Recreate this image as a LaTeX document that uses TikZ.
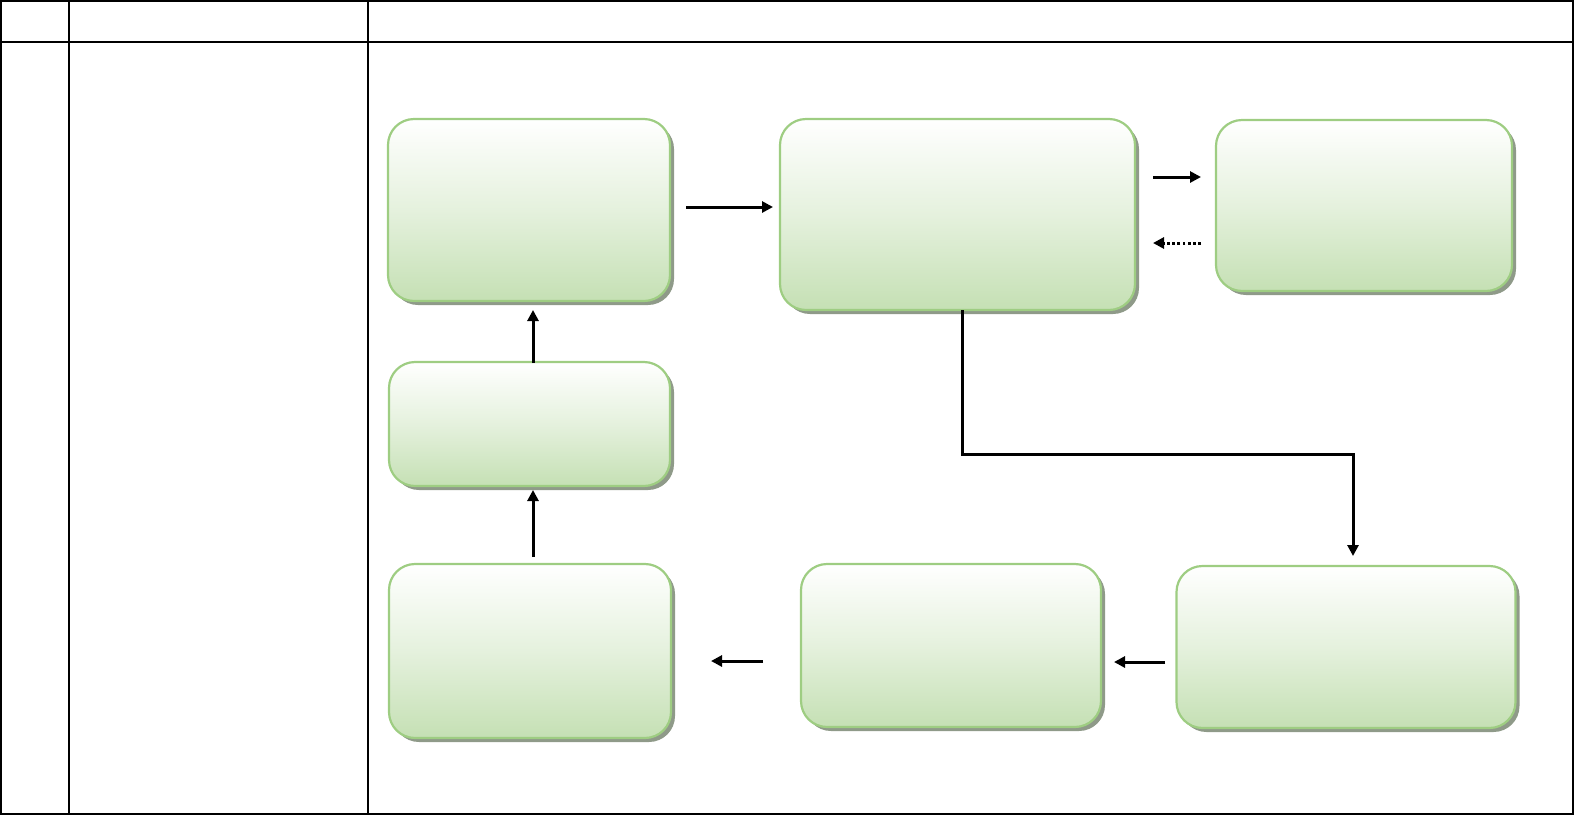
\documentclass[tikz,border=0pt]{standalone}
\usetikzlibrary{arrows.meta,shadows,calc}
\definecolor{boxgreen}{RGB}{197,224,180}
\definecolor{boxborder}{RGB}{158,205,130}
\definecolor{shadowc}{RGB}{143,154,137}
\tikzset{
  box/.style={draw=boxborder, line width=1.1pt, rounded corners=13pt,
    top color=white, bottom color=boxgreen, middle color=boxgreen!45!white,
    inner sep=0pt, outer sep=0pt,
    drop shadow={shadow xshift=2pt, shadow yshift=-2pt, fill=shadowc, opacity=1}},
  arr/.style={line width=1.5pt, -{Triangle[length=5.5pt,width=5.5pt]}},
  darr/.style={arr, dash pattern=on 1.4pt off 1.2pt},
  grid/.style={line width=1pt}
}
\begin{document}
\begin{tikzpicture}[x=0.5pt,y=-0.5pt]
\useasboundingbox (0,0) rectangle (1574,815);
% table
\draw[grid] (1,1) rectangle (1573,814);
\draw[grid] (1,42) -- (1573,42);
\draw[grid] (69,1) -- (69,814);
\draw[grid] (368,1) -- (368,814);
% boxes
\node[box, minimum width=141pt, minimum height=91pt] (A) at (529,210) {};
\node[box, minimum width=177.5pt, minimum height=95.5pt] (B) at (957.5,214.5) {};
\node[box, minimum width=148pt, minimum height=85.5pt] (C) at (1364,205.5) {};
\node[box, minimum width=140.5pt, minimum height=62pt] (D) at (529.5,424) {};
\node[box, minimum width=141pt, minimum height=87pt] (E) at (530,651) {};
\node[box, minimum width=150pt, minimum height=81.5pt] (F) at (951,645.5) {};
\node[box, minimum width=169.5pt, minimum height=81pt] (G) at (1346,647) {};
% connector points
\coordinate (ab1) at (686,207); \coordinate (ab2) at (773,207);
\coordinate (bc1) at (1153,177); \coordinate (bc2) at (1201,177);
\coordinate (cb1) at (1201,243); \coordinate (cb2) at (1153,243);
\coordinate (bg1) at (962,454); \coordinate (bg2) at (1353,454); \coordinate (bg3) at (1353,556);
\coordinate (gf1) at (1165,662); \coordinate (gf2) at (1114,662);
\coordinate (fe1) at (763,661); \coordinate (fe2) at (711,661);
\coordinate (ed1) at (533,557); \coordinate (ed2) at (533,490);
\coordinate (da1) at (533,363); \coordinate (da2) at (533,310);
% connectors
\draw[arr] (ab1) -- (ab2);
\draw[arr] (bc1) -- (bc2);
\draw[darr] (cb1) -- (cb2);
\draw[arr] (B.south -| bg1) -- (bg1) -- (bg2) -- (bg3);
\draw[arr] (gf1) -- (gf2);
\draw[arr] (fe1) -- (fe2);
\draw[arr] (ed1) -- (ed2);
\draw[arr] (da1) -- (da2);
\end{tikzpicture}
\end{document}
